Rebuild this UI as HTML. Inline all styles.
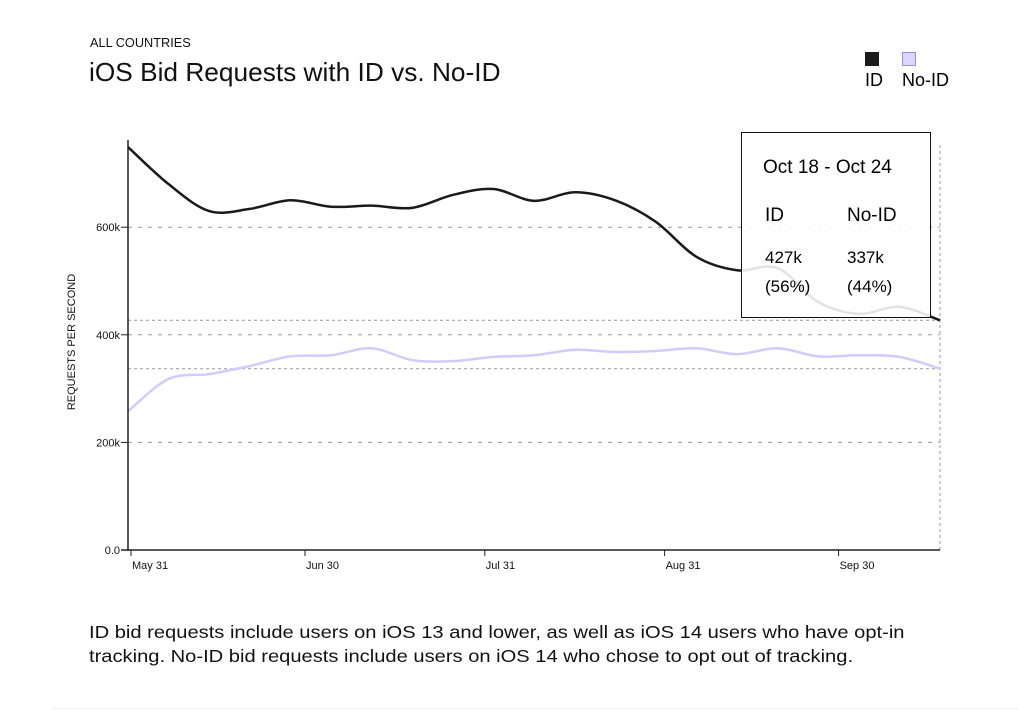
<!DOCTYPE html>
<html><head><meta charset="utf-8"><style>
body{margin:0;background:#fff;width:1018px;height:712px;overflow:hidden;font-family:"Liberation Sans",sans-serif;position:relative}
.t{position:absolute;color:#111}
</style></head><body>
<div class="t" style="left:90px;top:35px;font-size:13px;transform:scaleX(0.98);transform-origin:left">ALL COUNTRIES</div>
<div class="t" style="left:89px;top:57px;font-size:26px;transform:scaleX(1.01);transform-origin:left">iOS Bid Requests with ID vs. No-ID</div>
<div style="position:absolute;left:863px;top:52px;width:26px;height:40px">
 <div style="position:absolute;left:2px;top:0px;width:14px;height:14px;background:#1a1a1a"></div>
 <div style="position:absolute;left:2px;top:18px;font-size:18px">ID</div>
</div>
<div style="position:absolute;left:902px;top:52px;width:50px;height:40px">
 <div style="position:absolute;left:0;top:0px;width:14px;height:14px;background:#dcd6ff;border:1px solid #9a8fe0;box-sizing:border-box"></div>
 <div style="position:absolute;left:0;top:18px;font-size:18px">No-ID</div>
</div>
<svg id="c" width="1018" height="712" style="position:absolute;left:0;top:0"></svg>
<div style="position:absolute;left:741px;top:132px;width:190px;height:186px;border:1px solid #111;background:rgba(255,255,255,0.88);box-sizing:border-box">
 <div style="position:absolute;left:21px;top:24px;font-size:19px">Oct 18 - Oct 24</div>
 <div style="position:absolute;left:23px;top:72px;font-size:19px">ID</div>
 <div style="position:absolute;left:105px;top:72px;font-size:19px">No-ID</div>
 <div style="position:absolute;left:23px;top:110px;font-size:17px;line-height:29px">427k<br>(56%)</div>
 <div style="position:absolute;left:105px;top:110px;font-size:17px;line-height:29px">337k<br>(44%)</div>
</div>
<div class="t" style="left:89px;top:620px;font-size:17.5px;line-height:24px;transform:scaleX(1.15);transform-origin:left;white-space:nowrap">ID bid requests include users on iOS 13 and lower, as well as iOS 14 users who have opt-in<br>tracking. No-ID bid requests include users on iOS 14 who chose to opt out of tracking.</div>
<div style="position:absolute;left:52px;top:708px;width:966px;height:1px;background:#eee"></div>
<script>
const idVals=[749,680,630,634,650,638,640,636,660,671,649,665,650,610,545,520,524,461,439,452,427];
const noIdVals=[258,318,327,342,360,362,375,353,351,359,362,372,368,370,375,364,375,360,362,359,337];
const yTicks=[0,200,400,600];
const yTickLabels=["0.0","200k","400k","600k"];
const xTickWeeks=[0,30/7,61/7,92/7,122/7];
const xTickLabels=["May 31","Jun 30","Jul 31","Aug 31","Sep 30"];
const hoverIdx=20;
const NS="http://www.w3.org/2000/svg",svg=document.getElementById('c');
const X=i=>128+i*40.6, Y=v=>550-v*0.538;
function el(t,a){const e=document.createElementNS(NS,t);for(const k in a)e.setAttribute(k,a[k]);svg.appendChild(e);return e;}
yTicks.forEach((v,i)=>{
 if(v>0){const g=el('line',{x1:128,x2:940,y1:Y(v),y2:Y(v),stroke:'#999','stroke-dasharray':'4 6'});
 
 }
 const tk=el('line',{x1:121,x2:128,y1:Y(v),y2:Y(v),stroke:'#222'});
 
 
 const t=el('text',{x:120,y:Y(v)+4,'text-anchor':'end','font-size':11,fill:'#111'});t.textContent=yTickLabels[i];
 
 
});
[idVals[hoverIdx],noIdVals[hoverIdx]].forEach(v=>{
 const g=el('line',{x1:128,x2:940,y1:Y(v),y2:Y(v),stroke:'#999','stroke-dasharray':'3 3'});
 
 
});
const vg=el('line',{x1:X(hoverIdx),x2:X(hoverIdx),y1:145,y2:550,stroke:'#999','stroke-dasharray':'3 3'});


function path(vals){const p=vals.map((v,i)=>[X(i),Y(v)]);let d=`M${p[0][0]},${p[0][1]}`;
 for(let i=0;i<p.length-1;i++){const a=p[i-1]||p[i],b=p[i],c=p[i+1],e=p[i+2]||c;
 d+=`C${b[0]+(c[0]-a[0])/6},${b[1]+(c[1]-a[1])/6} ${c[0]-(e[0]-b[0])/6},${c[1]-(e[1]-b[1])/6} ${c[0]},${c[1]}`;}return d;}
const l2=el('path',{d:path(noIdVals),fill:'none',stroke:'#d2cbff','stroke-width':2.5});


const l1=el('path',{d:path(idVals),fill:'none',stroke:'#1a1a1a','stroke-width':2.5});


const ya=el('line',{x1:128,x2:128,y1:140,y2:551,stroke:'#222','stroke-width':1.5});


const xa=el('line',{x1:121,x2:940,y1:550,y2:550,stroke:'#222','stroke-width':1.5});


xTickWeeks.forEach((w,i)=>{const x=X(w)+3;
 const tk=el('line',{x1:x,x2:x,y1:550,y2:556,stroke:'#222'});
 
 
 const t=el('text',{x:x+1,y:569,'font-size':11,fill:'#111'});t.textContent=xTickLabels[i];
 
 
});
const yt=el('text',{x:0,y:0,transform:'translate(75,342) rotate(-90)','text-anchor':'middle','font-size':11,fill:'#111'});yt.textContent='REQUESTS PER SECOND';


</script>
</body></html>
